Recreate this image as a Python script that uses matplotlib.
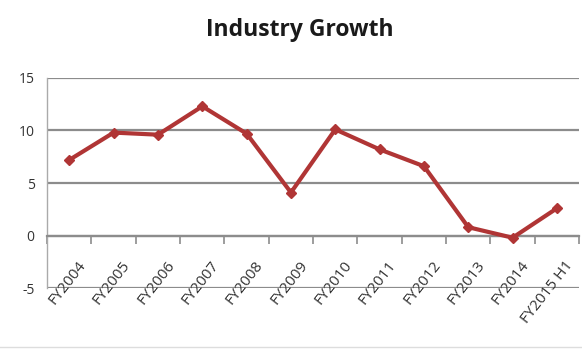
import matplotlib.pyplot as plt
import matplotlib.transforms as mtransforms
import numpy as np

categories = ['FY2004', 'FY2005', 'FY2006', 'FY2007', 'FY2008', 'FY2009',
              'FY2010', 'FY2011', 'FY2012', 'FY2013', 'FY2014', 'FY2015 H1']
growth = [7.2, 9.8, 9.6, 12.3, 9.7, 4.1, 10.1, 8.2, 6.6, 0.8, -0.2, 2.6]
yticks = [-5, 0, 5, 10, 15]

plt.rcParams['font.family'] = ['Open Sans', 'DejaVu Sans']

fig = plt.figure(figsize=(5.82, 3.51), dpi=100)
ax = fig.add_axes([0.081, 0.179, 0.914, 0.599])

x = np.arange(len(categories))
ax.plot(x, growth, color='#b03535', lw=3.0, marker='D', ms=5.5,
        markerfacecolor='#b03535', markeredgecolor='#b03535', zorder=3)

ax.set_xlim(-0.5, len(categories) - 0.5)
ax.set_ylim(-5, 15)
ax.set_yticks(yticks)
ax.set_yticklabels([str(v) for v in yticks], fontsize=10, color='#333333')
ax.tick_params(axis='y', length=0, pad=9)

# horizontal gridlines
for v in yticks:
    ax.axhline(v, color='#8c8c8c', lw=1.6, zorder=1)

for s in ['top', 'right']:
    ax.spines[s].set_visible(False)
ax.spines['left'].set_color('#aaaaaa')
ax.spines['left'].set_linewidth(1.0)
ax.spines['bottom'].set_position(('data', 0))
ax.spines['bottom'].set_color('#8c8c8c')
ax.spines['bottom'].set_linewidth(1.6)

# category ticks between categories, labels at centres
ax.set_xticks(x)
ax.set_xticklabels(categories, rotation=52, ha='right', va='top',
                   rotation_mode='anchor', fontsize=11, color='#333333')
ax.set_xticks(np.arange(len(categories) + 1) - 0.5, minor=True)
ax.tick_params(axis='x', which='major', length=0, pad=0)
ax.tick_params(axis='x', which='minor', length=6, width=1.2, color='#8c8c8c')
offset = mtransforms.ScaledTranslation(8 / 100, -22 / 100, fig.dpi_scale_trans)
for lbl in ax.get_xticklabels():
    lbl.set_transform(lbl.get_transform() + offset)

fig.text(0.515, 0.915, 'Industry Growth', ha='center', va='center',
         fontsize=16.5, fontweight='bold', color='#1a1a1a')

fig.add_artist(plt.Line2D([0.0, 1.0], [0.012, 0.012], color='#dddddd', lw=1))

fig.savefig('out.png', dpi=100)
